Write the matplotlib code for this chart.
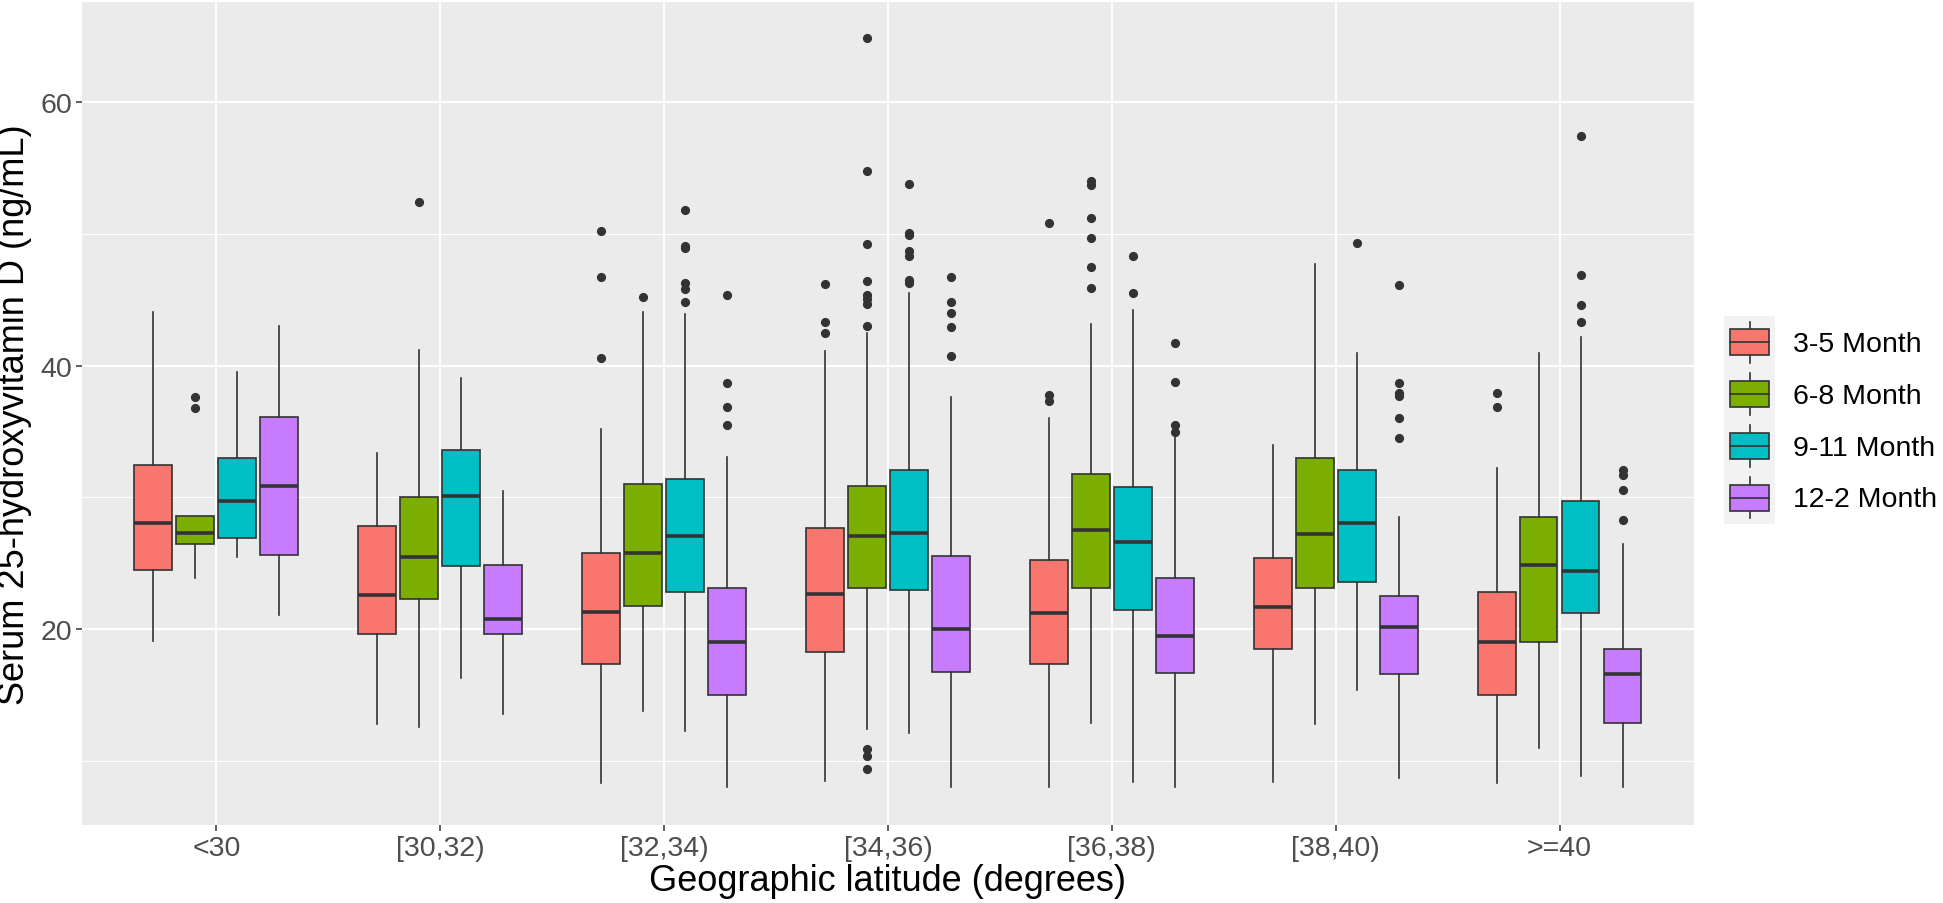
import numpy as np
import matplotlib.pyplot as plt
from matplotlib.patches import Patch, Rectangle
from matplotlib.lines import Line2D
from matplotlib.legend_handler import HandlerBase

plt.rcParams['font.family'] = ['Liberation Sans', 'DejaVu Sans']

categories = ['<30', '[30,32)', '[32,34)', '[34,36)', '[36,38)', '[38,40)', '>=40']
seasons = ['3-5 Month', '6-8 Month', '9-11 Month', '12-2 Month']
colors = ['#F8766D', '#7CAE00', '#00BFC4', '#C77CFF']

# rows = seasons, columns = latitude groups
whislo = [[19.1, 12.8, 8.3, 8.5, 8.0, 8.4, 8.3],
          [23.9, 12.6, 13.8, 12.4, 12.9, 12.8, 11.0],
          [25.5, 16.3, 12.3, 12.1, 8.4, 15.4, 8.9],
          [21.1, 13.6, 8.0, 8.0, 8.0, 8.7, 8.0]]
q1 = [[24.5, 19.65, 17.4, 18.3, 17.4, 18.5, 15.05],
      [26.5, 22.3, 21.8, 23.1, 23.15, 23.1, 19.0],
      [26.9, 24.8, 22.8, 23.0, 21.5, 23.6, 21.2],
      [25.65, 19.65, 15.05, 16.75, 16.7, 16.6, 12.9]]
med = [[28.1, 22.6, 21.3, 22.7, 21.2, 21.7, 19.0],
       [27.3, 25.5, 25.8, 27.1, 27.5, 27.2, 24.9],
       [29.7, 30.15, 27.1, 27.3, 26.6, 28.1, 24.4],
       [30.9, 20.8, 19.0, 20.0, 19.5, 20.2, 16.6]]
q3 = [[32.5, 27.8, 25.8, 27.7, 25.25, 25.4, 22.8],
      [28.6, 30.0, 31.0, 30.9, 31.8, 33.0, 28.5],
      [33.0, 33.6, 31.4, 32.1, 30.8, 32.1, 29.7],
      [36.1, 24.9, 23.15, 25.55, 23.9, 22.55, 18.5]]
whishi = [[44.1, 33.4, 35.2, 41.1, 36.0, 34.0, 32.25],
          [28.6, 41.2, 44.1, 42.5, 43.15, 47.75, 41.0],
          [39.5, 39.1, 43.9, 45.5, 44.25, 41.0, 42.2],
          [43.0, 30.5, 33.1, 37.6, 34.6, 28.5, 26.5]]
fliers = [
    [[], [], [50.2, 46.7, 40.6], [46.2, 43.3, 42.5], [50.8, 37.8, 37.3], [], [37.9, 36.9]],
    [[37.6, 36.8], [52.4], [45.2],
     [64.9, 54.8, 49.2, 46.4, 45.4, 45.1, 44.7, 43.0, 10.9, 10.4, 9.4],
     [54.0, 53.7, 51.2, 49.7, 47.5, 45.9], [], []],
    [[], [], [51.8, 49.1, 48.9, 46.3, 45.8, 44.8],
     [53.8, 50.1, 49.9, 48.7, 48.3, 46.5, 46.3], [48.3, 45.5], [49.3], [57.4, 46.9, 44.6, 43.3]],
    [[], [], [45.4, 38.7, 36.9, 35.5], [46.7, 44.8, 44.0, 42.9, 40.7],
     [41.7, 38.8, 35.5, 35.0], [46.1, 38.7, 37.9, 37.7, 36.0, 34.5], [32.1, 31.7, 30.6, 28.3]],
]

dark = '#333333'


class BoxKey(HandlerBase):
    # legend key drawn like a small ggplot boxplot glyph
    def create_artists(self, legend, orig_handle, xdescent, ydescent,
                       width, height, fontsize, trans):
        x0, y0 = -xdescent, -ydescent
        bg = Rectangle((x0, y0), width, height, facecolor='#F2F2F2',
                       edgecolor='none', transform=trans)
        bw, bh = width * 0.76, height * 0.5
        bx, by = x0 + (width - bw) / 2, y0 + (height - bh) / 2
        cx = x0 + width / 2
        w1 = Line2D([cx, cx], [y0 + height * 0.1, by], color=dark, lw=1.2, transform=trans)
        w2 = Line2D([cx, cx], [by + bh, y0 + height * 0.9], color=dark, lw=1.2, transform=trans)
        box = Rectangle((bx, by), bw, bh, facecolor=orig_handle.get_facecolor(),
                        edgecolor=dark, lw=1.2, transform=trans)
        m = Line2D([bx, bx + bw], [by + bh / 2] * 2, color=dark, lw=1.2, transform=trans)
        return [bg, w1, w2, box, m]


fig = plt.figure(figsize=(19.43, 9.04), dpi=100)
ax = fig.add_axes([0.0422, 0.0863, 0.8296, 0.9104])
ax.set_facecolor('#EBEBEB')

xs = np.arange(1, len(categories) + 1)
step = 0.1875
for j in range(len(seasons)):
    stats = []
    for i in range(len(categories)):
        stats.append(dict(med=med[j][i], q1=q1[j][i], q3=q3[j][i],
                          whislo=whislo[j][i], whishi=whishi[j][i],
                          fliers=fliers[j][i]))
    ax.bxp(stats, positions=xs + (j - 1.5) * step, widths=step * 0.9,
           patch_artist=True, showcaps=False,
           boxprops=dict(facecolor=colors[j], edgecolor=dark, linewidth=1.2),
           medianprops=dict(color=dark, linewidth=2.6),
           whiskerprops=dict(color=dark, linewidth=1.2),
           flierprops=dict(marker='o', markerfacecolor=dark, markeredgecolor=dark,
                           markersize=5.6, linestyle='none'))

ax.set_xlim(0.4, len(categories) + 0.6)
ax.set_ylim(5.15, 67.6)
ax.set_xticks(xs)
ax.set_xticklabels(categories)
ax.set_yticks([20, 40, 60])
ax.set_yticks([10, 30, 50], minor=True)
ax.grid(True, which='major', color='white', linewidth=1.5)
ax.grid(True, which='minor', axis='y', color='white', linewidth=0.75)
ax.set_axisbelow(True)
for s in ax.spines.values():
    s.set_visible(False)
ax.tick_params(axis='both', which='major', length=4, width=1.1, color=dark,
               labelsize=20.5, labelcolor='#4D4D4D', pad=3)
ax.tick_params(axis='y', which='minor', length=0)

ax.set_xlabel('Geographic latitude (degrees)', fontsize=26, labelpad=2)
ax.set_ylabel('Serum 25-hydroxyvitamin D (ng/mL)', fontsize=26, labelpad=6)

handles = [Patch(facecolor=c, edgecolor=dark) for c in colors]
fig.legend(handles, seasons, loc='center left', bbox_to_anchor=(0.8871, 0.5343),
           handler_map={Patch: BoxKey()}, frameon=False, fontsize=20.5,
           handlelength=1.82, handleheight=2.42, labelspacing=0,
           handletextpad=0.63, borderpad=0, borderaxespad=0)

fig.savefig('out.png', dpi=100)
